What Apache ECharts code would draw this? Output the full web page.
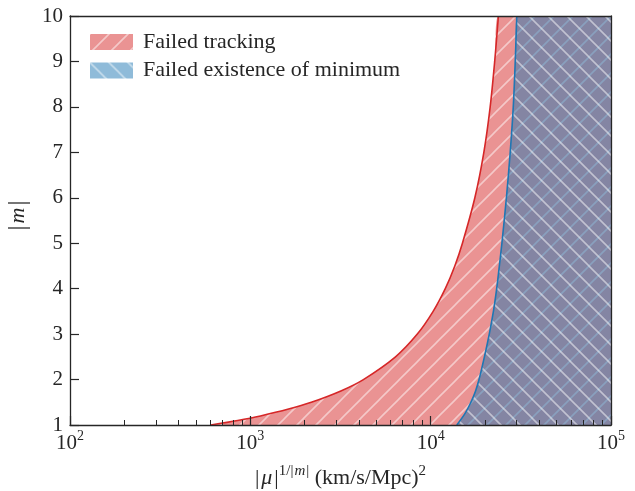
<!DOCTYPE html>
<html lang="en">
<head>
    <meta charset="UTF-8">
    <script src="https://cdn.jsdelivr.net/npm/echarts@6/dist/echarts.min.js"></script>
    <title>Failed tracking / minimum</title>
</head>
<body style="margin:0">
<div id="main" style="width: 635px;height: 491px"></div>
<script type="text/javascript">
    // boundary of "failed tracking" region: |m| and the mu value
    var trackingM = [1.0, 1.1, 1.2, 1.35, 1.5, 1.75, 2.0, 2.5, 3.0, 3.5, 4.0, 4.5, 5.0, 6.0, 7.0, 8.0, 9.0, 10.0];
    var trackingMu = [603, 851, 1138, 1629, 2178, 3177, 4236, 6383, 8433, 10320, 12050, 13610, 15000, 17580, 19720, 21380, 22650, 23750];
    // boundary of "failed existence of minimum" region
    var minimumM = [1.0, 1.25, 1.5, 1.75, 2.0, 2.5, 3.0, 3.5, 4.0, 4.5, 5.0, 6.0, 7.0, 8.0, 9.0, 10.0];
    var minimumMu = [13960, 15490, 16710, 17740, 18540, 19860, 21130, 22280, 23230, 24040, 24830, 26300, 27610, 28710, 29440, 30030];
    var xMin = 100, xMax = 100000;
    var yTicks = [1, 2, 3, 4, 5, 6, 7, 8, 9, 10];
    var minorTicks = [200, 300, 400, 500, 600, 700, 800, 900,
        2000, 3000, 4000, 5000, 6000, 7000, 8000, 9000,
        20000, 30000, 40000, 50000, 60000, 70000, 80000, 90000];

    var serif = "'Liberation Serif', 'DejaVu Serif', serif";
    var ink = '#262626';

    function pairs(xs, ys) {
        return xs.map(function (x, i) { return [x, ys[i]]; });
    }

    // hatched fill, like matplotlib's hatch='/' or '\\'
    function hatch(fill, dir) {
        var P = 19;
        var c = document.createElement('canvas');
        c.width = P; c.height = P;
        var g = c.getContext('2d');
        g.fillStyle = fill;
        g.fillRect(0, 0, P, P);
        g.strokeStyle = 'rgba(255,255,255,0.5)';
        g.lineWidth = 1.6;
        g.beginPath();
        if (dir === '/') {
            g.moveTo(-2, P + 2); g.lineTo(P + 2, -2);
            g.moveTo(-2, 2); g.lineTo(2, -2);
            g.moveTo(P - 2, P + 2); g.lineTo(P + 2, P - 2);
        } else {
            g.moveTo(-2, -2); g.lineTo(P + 2, P + 2);
            g.moveTo(P - 2, -2); g.lineTo(P + 2, 2);
            g.moveTo(-2, P - 2); g.lineTo(2, P + 2);
        }
        g.stroke();
        return {image: c, repeat: 'repeat'};
    }

    var redHatch = hatch('rgba(214,39,40,0.5)', '/');
    var blueHatch = hatch('rgba(31,119,180,0.5)', '\\');

    var trackingLine = pairs(trackingMu, trackingM);
    var minimumLine = pairs(minimumMu, minimumM);
    // close each region along the top edge to the right border
    var trackingArea = trackingLine.concat([[xMax, 10]]);
    var minimumArea = minimumLine.concat([[xMax, 10]]);

    var supRich = {
        b: {fontSize: 21, fontFamily: serif, color: ink, lineHeight: 24},
        s: {fontSize: 14, fontFamily: serif, color: ink, lineHeight: 14, padding: [0, 0, 14, 0]}
    };
    var nameRich = {
        b: {fontSize: 22, fontFamily: serif, color: ink, lineHeight: 26},
        i: {fontSize: 22, fontFamily: serif, fontStyle: 'italic', color: ink, lineHeight: 26, padding: [0, 2, 0, 2]},
        s: {fontSize: 15, fontFamily: serif, color: ink, lineHeight: 15, padding: [0, 0, 14, 0]},
        si: {fontSize: 15, fontFamily: serif, fontStyle: 'italic', color: ink, lineHeight: 15, padding: [0, 1, 14, 1]}
    };
    var yNameRich = {
        b: {fontSize: 25, fontFamily: serif, color: ink, lineHeight: 28},
        i: {fontSize: 22, fontFamily: serif, fontStyle: 'italic', color: ink, lineHeight: 28, padding: [0, 2, 0, 2]}
    };

    var frameLine = {show: true, lineStyle: {color: ink, width: 1.3}};

    var myChart = echarts.init(document.getElementById('main'));
    myChart.setOption({
        animation: false,
        grid: {left: 70, right: 24, top: 16, bottom: 66, containLabel: false, outerBoundsMode: 'none'},
        legend: {
            orient: 'vertical',
            left: 90,
            top: 30,
            padding: 0,
            itemWidth: 43,
            itemHeight: 16,
            itemGap: 4.5,
            icon: 'rect',
            selectedMode: false,
            textStyle: {fontSize: 22, fontFamily: serif, color: ink, lineHeight: 24, padding: [0, 0, 0, 5]},
            data: [
                {name: 'Failed tracking', itemStyle: {color: redHatch, borderWidth: 0}},
                {name: 'Failed existence of minimum', itemStyle: {color: blueHatch, borderWidth: 0}}
            ]
        },
        xAxis: [{
            type: 'log',
            logBase: 10,
            min: xMin,
            max: xMax,
            position: 'bottom',
            z: 10,
            axisLine: frameLine,
            axisTick: {inside: true, length: 9, lineStyle: {color: ink, width: 1.2}},
            splitLine: {show: false},
            axisLabel: {
                margin: 6,
                formatter: function (v) {
                    return '{b|10}{s|' + Math.round(Math.log10(v)) + '}';
                },
                rich: supRich
            },
            name: '{b||}{i|μ}{b||}{s|1/|}{si|m}{s||}{b| (km/s/Mpc)}{s|2}',
            nameLocation: 'middle',
            nameGap: 40,
            nameTextStyle: {rich: nameRich}
        }, {
            // minor ticks of the log axis, placed in log10 space
            type: 'value',
            min: Math.log10(xMin),
            max: Math.log10(xMax),
            position: 'bottom',
            z: 10,
            axisLine: {show: false},
            axisLabel: {show: false},
            splitLine: {show: false},
            axisTick: {
                inside: true, length: 5, lineStyle: {color: ink, width: 1},
                customValues: minorTicks.map(function (t) { return Math.log10(t); })
            }
        }, {
            type: 'value',
            position: 'top',
            z: 10,
            axisLine: frameLine,
            axisTick: {show: false},
            axisLabel: {show: false},
            splitLine: {show: false}
        }],
        yAxis: [{
            type: 'value',
            min: 1,
            max: 10,
            interval: 1,
            z: 10,
            axisLine: frameLine,
            axisTick: {inside: true, length: 9, lineStyle: {color: ink, width: 1.2}},
            splitLine: {show: false},
            axisLabel: {
                margin: 7,
                fontSize: 21,
                fontFamily: serif,
                color: ink,
                customValues: yTicks
            },
            name: '{b||}{i|m}{b||}',
            nameLocation: 'middle',
            nameGap: 38,
            nameRotate: 90,
            nameTextStyle: {rich: yNameRich, padding: [0, 0, 0, 10]}
        }, {
            type: 'value',
            min: 1,
            max: 10,
            position: 'right',
            z: 10,
            axisLine: frameLine,
            axisTick: {show: false},
            axisLabel: {show: false},
            splitLine: {show: false}
        }],
        series: [{
            name: 'Failed tracking',
            type: 'line',
            data: trackingArea,
            smooth: 0.3,
            symbol: 'none',
            lineStyle: {width: 0},
            areaStyle: {color: redHatch, opacity: 1, origin: 'start'},
            z: 2
        }, {
            name: 'Failed existence of minimum',
            type: 'line',
            data: minimumArea,
            smooth: 0.3,
            symbol: 'none',
            lineStyle: {width: 0},
            areaStyle: {color: blueHatch, opacity: 1, origin: 'start'},
            z: 3
        }, {
            name: 'tracking edge',
            type: 'line',
            data: trackingLine,
            smooth: 0.3,
            symbol: 'none',
            lineStyle: {color: '#d62728', width: 1.6},
            z: 4
        }, {
            name: 'minimum edge',
            type: 'line',
            data: minimumLine,
            smooth: 0.3,
            symbol: 'none',
            lineStyle: {color: '#1f77b4', width: 1.6},
            z: 4
        }]
    });
</script>
</body>
</html>
